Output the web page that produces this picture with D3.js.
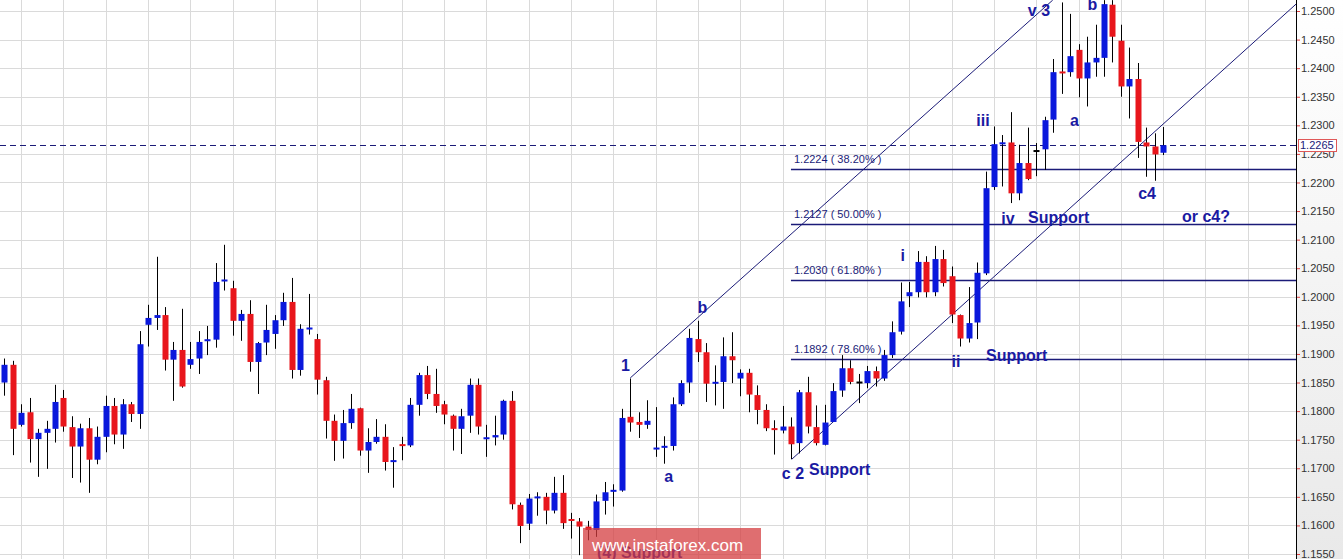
<!DOCTYPE html>
<html><head><meta charset="utf-8">
<script src="https://cdn.jsdelivr.net/npm/d3@7"></script>
<style>html,body{margin:0;padding:0;background:#fff;overflow:hidden}</style>
</head><body>
<svg id="c" width="1343" height="559"></svg>
<script>
// ---- data ----
const opens = [1.1850,1.1881,1.1776,1.1798,1.1751,1.1762,1.1769,1.1823,1.1772,1.1738,
1.1770,1.1715,1.1755,1.1809,1.1759,1.1812,1.1795,1.1951,1.1963,1.1968,
1.1890,1.1907,1.1881,1.1892,1.1923,1.1925,1.2028,1.2015,1.1958,1.1970,
1.1886,1.1920,1.1935,1.1959,1.1991,1.1872,1.1944,1.1926,1.1854,1.1783,
1.1748,1.1779,1.1805,1.1731,1.1746,1.1755,1.1712,1.1741,1.1740,1.1811,
1.1863,1.1830,1.1812,1.1792,1.1769,1.1792,1.1846,1.1752,1.1754,1.1759,
1.1818,1.1636,1.1603,1.1648,1.1650,1.1626,1.1657,1.1610,1.1607,1.1598,
1.1592,1.1643,1.1660,1.1661,1.1790,1.1781,1.1776,1.1734,1.1737,1.1739,
1.1812,1.1850,1.1926,1.1903,1.1849,1.1851,1.1896,1.1857,1.1867,1.1828,
1.1802,1.1769,1.1766,1.1773,1.1744,1.1833,1.1772,1.1741,1.1781,1.1836,
1.1875,1.1850,1.1849,1.1870,1.1857,1.1898,1.1939,1.2001,1.2008,1.2061,
1.2008,1.2066,1.2036,1.1968,1.1927,1.1955,1.2041,1.2192,1.2267,1.2270,
1.2181,1.2234,1.2255,1.2258,1.2310,1.2393,1.2393,1.2432,1.2382,1.2410,
1.2418,1.2511,1.2448,1.2368,1.2381,1.2270,1.2263,1.2252];
const highs = [1.1892,1.1888,1.1812,1.1823,1.1769,1.1783,1.1846,1.1837,1.1791,1.1778,
1.1788,1.1773,1.1827,1.1823,1.1821,1.1816,1.1940,1.1986,1.2070,1.1982,
1.1921,1.1979,1.1921,1.1940,1.1949,1.2059,1.2091,1.2028,1.1977,1.1994,
1.1921,1.1986,1.1968,1.2007,1.2033,1.1952,1.2005,1.1935,1.1860,1.1794,
1.1802,1.1830,1.1806,1.1770,1.1786,1.1777,1.1737,1.1755,1.1823,1.1867,
1.1879,1.1874,1.1818,1.1794,1.1804,1.1857,1.1857,1.1776,1.1792,1.1820,
1.1835,1.1640,1.1655,1.1658,1.1657,1.1685,1.1688,1.1622,1.1613,1.1608,
1.1654,1.1676,1.1672,1.1804,1.1857,1.1798,1.1819,1.1807,1.1756,1.1824,
1.1854,1.1944,1.1958,1.1919,1.1880,1.1929,1.1938,1.1873,1.1874,1.1845,
1.1812,1.1784,1.1809,1.1789,1.1837,1.1860,1.1810,1.1811,1.1849,1.1898,
1.1889,1.1865,1.1879,1.1878,1.1907,1.1957,1.2025,1.2026,1.2080,1.2071,
1.2089,1.2082,1.2053,1.1969,1.2017,1.2060,1.2219,1.2298,1.2283,1.2323,
1.2266,1.2296,1.2269,1.2315,1.2416,1.2515,1.2495,1.2442,1.2455,1.2476,
1.2519,1.2519,1.2476,1.2436,1.2409,1.2296,1.2286,1.2297];
const lows = [1.1827,1.1723,1.1773,1.1710,1.1685,1.1699,1.1745,1.1764,1.1683,1.1675,
1.1657,1.1707,1.1728,1.1742,1.1734,1.1781,1.1769,1.1913,1.1942,1.1871,
1.1818,1.1841,1.1874,1.1865,1.1898,1.1911,1.2011,1.1932,1.1923,1.1869,
1.1830,1.1898,1.1909,1.1949,1.1857,1.1862,1.1934,1.1829,1.1752,1.1713,
1.1717,1.1769,1.1722,1.1692,1.1743,1.1696,1.1666,1.1714,1.1737,1.1792,
1.1821,1.1797,1.1777,1.1731,1.1725,1.1762,1.1759,1.1720,1.1740,1.1750,
1.1628,1.1569,1.1592,1.1617,1.1602,1.1621,1.1594,1.1577,1.1548,1.1574,
1.1580,1.1619,1.1633,1.1659,1.1764,1.1753,1.1769,1.1720,1.1708,1.1731,
1.1809,1.1832,1.1886,1.1816,1.1810,1.1804,1.1849,1.1826,1.1798,1.1777,
1.1765,1.1724,1.1761,1.1716,1.1726,1.1761,1.1740,1.1740,1.1781,1.1825,
1.1847,1.1814,1.1840,1.1843,1.1853,1.1893,1.1934,1.1982,1.1999,1.1999,
1.2001,1.2018,1.1954,1.1913,1.1920,1.1926,1.2038,1.2187,1.2193,1.2164,
1.2169,1.2204,1.2211,1.2222,1.2287,1.2355,1.2385,1.2349,1.2333,1.2385,
1.2385,1.2410,1.2350,1.2312,1.2243,1.2210,1.2203,1.2248];
const closes = [1.1881,1.1769,1.1797,1.1751,1.1762,1.1769,1.1816,1.1773,1.1738,1.1770,
1.1715,1.1755,1.1809,1.1759,1.1812,1.1795,1.1917,1.1963,1.1968,1.1890,
1.1907,1.1843,1.1891,1.1921,1.1925,1.2026,1.2029,1.1958,1.1970,1.1886,
1.1919,1.1942,1.1959,1.1991,1.1872,1.1944,1.1945,1.1855,1.1783,1.1748,
1.1779,1.1804,1.1731,1.1746,1.1755,1.1711,1.1713,1.1740,1.1811,1.1863,
1.1830,1.1809,1.1794,1.1769,1.1791,1.1846,1.1773,1.1753,1.1758,1.1818,
1.1637,1.1599,1.1647,1.1650,1.1626,1.1657,1.1604,1.1609,1.1598,1.1592,
1.1642,1.1658,1.1661,1.1788,1.1780,1.1776,1.1783,1.1735,1.1738,1.1812,
1.1849,1.1928,1.1903,1.1848,1.1850,1.1896,1.1889,1.1867,1.1829,1.1802,
1.1770,1.1768,1.1773,1.1742,1.1833,1.1773,1.1744,1.1780,1.1835,1.1875,
1.1851,1.1850,1.1870,1.1857,1.1898,1.1938,1.1992,1.2008,1.2061,1.2008,
1.2066,1.2024,1.1969,1.1927,1.1954,1.2042,1.2190,1.2267,1.2270,1.2181,
1.2234,1.2206,1.2255,1.2309,1.2393,1.2392,1.2421,1.2382,1.2410,1.2418,
1.2512,1.2455,1.2368,1.2381,1.2271,1.2263,1.2249,1.2265];

const priceTicks = ["1.1550","1.1600","1.1650","1.1700","1.1750","1.1800","1.1850","1.1900","1.1950","1.2000",
  "1.2050","1.2100","1.2150","1.2200","1.2250","1.2300","1.2350","1.2400","1.2450","1.2500"];
const fibLevels = [1.2224, 1.2127, 1.2030, 1.1892];
const fibPercents = ["38.20%", "50.00%", "61.80%", "78.60%"];
const fibStartIndex = 93;
const lastPrice = 1.2265;
// channel lines as [candle index, price] pairs
const upperChannel = [[74, 1.1858], [123.94, 1.2519]];
const lowerChannel = [[93.09, 1.17157], [152.7, 1.2512]];
// wave annotations anchored at [candle index, price]
const waveLabels = [
  {t:"1", i:73.44, p:1.18702, a:"middle"},
  {t:"a", i:78.56, p:1.16755, a:"middle"},
  {t:"b", i:82.54, p:1.19722, a:"middle"},
  {t:"c 2", i:93.24, p:1.16812, a:"middle"},
  {t:"Support", i:95.13, p:1.16880, a:"start"},
  {t:"i", i:106.21, p:1.20632, a:"middle"},
  {t:"ii", i:112.51, p:1.18777, a:"middle"},
  {t:"Support", i:116.06, p:1.18877, a:"start"},
  {t:"iii", i:115.70, p:1.22988, a:"middle"},
  {t:"iv", i:118.66, p:1.21274, a:"middle"},
  {t:"Support", i:121.02, p:1.21296, a:"start"},
  {t:"v 3", i:122.32, p:1.24913, a:"middle"},
  {t:"a", i:126.52, p:1.22988, a:"middle"},
  {t:"b", i:128.64, p:1.25017, a:"middle"},
  {t:"c4", i:135.09, p:1.21706, a:"middle"},
  {t:"or c4?", i:139.22, p:1.21314, a:"start"},
  {t:"(4) Support", i:70.07, p:1.15430, a:"start"}
];

// ---- layout ----
const W = 1343, H = 559, plotRight = 1296;
const x = d3.scaleLinear().domain([-0.5, 152.7]).range([0, plotRight]);
const y = d3.scaleLinear().domain([1.155, 1.25]).range([554, 11]);
const svg = d3.select("#c");
const navy = "#1b1b78", labelBlue = "#1a1aa2";
const BLUE = "#0a18dc", RED = "#e8161c";

svg.append("rect").attr("width", W).attr("height", H).attr("fill", "#fff");
const grad = svg.append("defs").append("linearGradient").attr("id","ag").attr("x1",0).attr("y1",0).attr("x2",0).attr("y2",1);
grad.append("stop").attr("offset","0%").attr("stop-color","#ffffff");
grad.append("stop").attr("offset","100%").attr("stop-color","#e9e9e9");
svg.select("defs").append("clipPath").attr("id","plot").append("rect").attr("x",0).attr("y",0).attr("width",plotRight).attr("height",H);
svg.append("rect").attr("x", plotRight).attr("y", 0).attr("width", W - plotRight).attr("height", H).attr("fill", "url(#ag)");

const plot = svg.append("g").attr("clip-path", "url(#plot)");

// grid
const gridIdx = d3.range(2, 150, 5);
plot.append("g").selectAll("line").data(gridIdx).join("line")
  .attr("x1", d => Math.round(x(d)) + 0.5).attr("x2", d => Math.round(x(d)) + 0.5)
  .attr("y1", 0).attr("y2", H).attr("stroke", "#dadada").attr("stroke-width", 1);
plot.append("g").selectAll("line").data(priceTicks).join("line")
  .attr("x1", 0).attr("x2", plotRight)
  .attr("y1", d => Math.round(y(+d)) + 0.5).attr("y2", d => Math.round(y(+d)) + 0.5)
  .attr("stroke", "#dadada").attr("stroke-width", 1);

// fib lines
const fg = plot.append("g");
fibLevels.forEach((lv, k) => {
  const yy = Math.round(y(lv)) + 0.5;
  fg.append("line").attr("x1", x(fibStartIndex)).attr("x2", plotRight).attr("y1", yy).attr("y2", yy)
    .attr("stroke", navy).attr("stroke-width", 1.6);
  fg.append("text").attr("x", x(fibStartIndex) + 3).attr("y", yy - 7)
    .attr("font-family", "Liberation Sans, Arial, sans-serif").attr("font-size", 11)
    .attr("fill", navy).text(lv.toFixed(4) + " ( " + fibPercents[k] + " )");
});

// last price dashed line
plot.append("line").attr("x1", 0).attr("x2", plotRight)
  .attr("y1", Math.round(y(lastPrice)) + 0.5).attr("y2", Math.round(y(lastPrice)) + 0.5)
  .attr("stroke", navy).attr("stroke-width", 1.2).attr("stroke-dasharray", "6,4");

// channel lines
[upperChannel, lowerChannel].forEach(seg => {
  plot.append("line")
    .attr("x1", x(seg[0][0])).attr("y1", y(seg[0][1]))
    .attr("x2", x(seg[1][0])).attr("y2", y(seg[1][1]))
    .attr("stroke", navy).attr("stroke-width", 1);
});

// candles
const candles = opens.map((o, i) => ({i, o, h: highs[i], l: lows[i], c: closes[i]}));
const cg = plot.append("g");
candles.forEach(d => {
  const cx = Math.round(x(d.i));
  cg.append("rect").attr("x", cx).attr("width", 1)
    .attr("y", y(d.h)).attr("height", Math.max(1, y(d.l) - y(d.h))).attr("fill", "#000");
  const top = y(Math.max(d.o, d.c)), bot = y(Math.min(d.o, d.c));
  let hgt = bot - top, yt = top;
  if (hgt < 2) { yt = (top + bot) / 2 - 1; hgt = 2; }
  const col = d.c > d.o ? BLUE : (d.c < d.o ? RED : "#000");
  cg.append("rect").attr("x", cx - 2.5).attr("width", 6)
    .attr("y", yt).attr("height", hgt).attr("fill", col);
});

// wave labels
const lg = plot.append("g").attr("font-family", "Liberation Sans, Arial, sans-serif")
  .attr("font-size", 16).attr("font-weight", "bold").attr("fill", labelBlue);
waveLabels.forEach(d => {
  lg.append("text").attr("x", x(d.i)).attr("y", y(d.p)).attr("text-anchor", d.a).text(d.t);
});

// axis
const ax = svg.append("g").attr("transform", `translate(${plotRight},0)`)
  .call(d3.axisRight(y).tickValues(priceTicks.map(Number)).tickFormat(d3.format(".4f")).tickSize(4).tickSizeOuter(0).tickPadding(1));
ax.select(".domain").remove();
ax.selectAll(".tick line").attr("stroke", "#e04040");
ax.selectAll(".tick text").attr("fill", "#333").attr("font-size", 11)
  .attr("font-family", "Liberation Sans, Arial, sans-serif");
svg.append("line").attr("x1", plotRight + 0.5).attr("x2", plotRight + 0.5).attr("y1", 0).attr("y2", H)
  .attr("stroke", "#000").attr("stroke-width", 1);

// current price box
const ly = y(lastPrice);
svg.append("rect").attr("x", plotRight + 2.5).attr("y", Math.round(ly) - 5.5).attr("width", 38).attr("height", 12)
  .attr("fill", "#fff").attr("stroke", "#e05858").attr("stroke-width", 1);
svg.append("text").attr("x", plotRight + 4).attr("y", ly + 4)
  .attr("font-family", "Liberation Sans, Arial, sans-serif").attr("font-size", 11).attr("fill", navy)
  .text(lastPrice.toFixed(4));

// watermark
svg.append("rect").attr("x", 583).attr("y", 528).attr("width", 178).attr("height", 31)
  .attr("fill", "rgba(212, 60, 62, 0.74)");
svg.append("text").attr("x", 592).attr("y", 551)
  .attr("font-family", "Liberation Sans, Arial, sans-serif").attr("font-size", 17)
  .attr("fill", "#fff").text("www.instaforex.com");
</script>
</body></html>
